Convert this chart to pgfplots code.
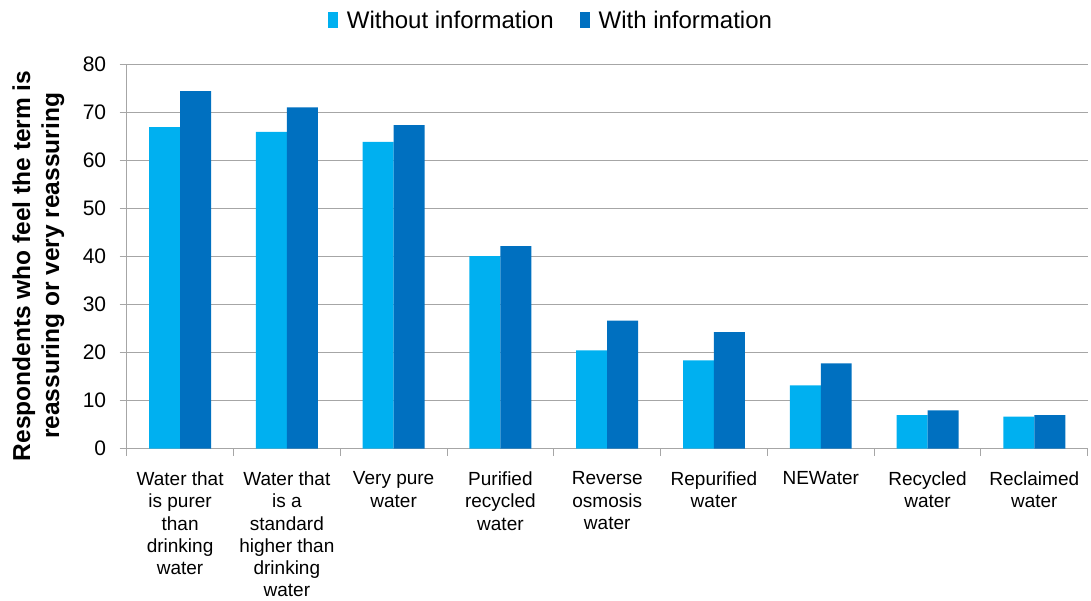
\documentclass[border=0pt]{standalone}
\usepackage{pgfplots}
\pgfplotsset{compat=1.18}
\usepackage{fontspec}
\setmainfont{Liberation Sans}
\definecolor{lightb}{HTML}{00B0F0}
\definecolor{darkb}{HTML}{0070C0}
\definecolor{gridc}{HTML}{A6A6A6}
\begin{document}
\begin{tikzpicture}
\path[use as bounding box] (0pt,0pt) rectangle (1091pt,-601pt);
\begin{axis}[
  at={(126.7pt,-448.7pt)}, anchor=south west,
  width=961pt, height=384pt, scale only axis,
  ybar=0pt, bar width=0.29,
  xmin=-0.5, xmax=8.5, ymin=0, ymax=80,
  ytick={0,10,...,80},
  xtick={0,...,8},
  xticklabels={{Water that\\is purer\\than\\drinking\\water},
               {Water that\\is a\\standard\\higher than\\drinking\\water},
               {Very pure\\water},
               {Purified\\recycled\\water},
               {Reverse\\osmosis\\water},
               {Repurified\\water},
               {NEWater},
               {Recycled\\water},
               {Reclaimed\\water}},
  minor xtick={-0.5,0.5,...,8.5},
  axis x line*=bottom, axis y line*=left,
  axis line style={-, draw=gridc, line width=1.2pt},
  ymajorgrids, major grid style={gridc, line width=1.2pt},
  tick align=outside, major tick length=7pt, minor tick length=7pt,
  tick style={gridc, line width=1pt},
  major x tick style={draw=none},
  /pgf/number format/assume math mode=true,
  yticklabel style={font=\fontsize{21}{25}\selectfont, xshift=-10pt},
  xticklabel style={font=\fontsize{19}{22.2}\selectfont, align=center, inner sep=0pt, yshift=-16pt},
  ylabel={Respondents who feel the term is\\reassuring or very reassuring},
  ylabel style={font=\bfseries\fontsize{24.5}{29}\selectfont, align=center, at={(axis description cs:-0.092,0.476)}, anchor=center},
  legend style={at={(0.4415,1.116)}, anchor=center, draw=none, legend columns=2,
    font=\fontsize{24}{28}\selectfont, inner sep=0pt,
    /tikz/every odd column/.append style={column sep=7pt},
    /tikz/every even column/.append style={column sep=24pt}},
  legend image code/.code={\fill[#1] (0pt,-8pt) rectangle (10pt,8pt);},
]
\addplot[fill=lightb, draw=none] coordinates {(0,67) (1,66) (2,63.9) (3,40.1) (4,20.5) (5,18.4) (6,13.2) (7,7) (8,6.7)};
\addplot[fill=darkb, draw=none] coordinates {(0,74.5) (1,71.1) (2,67.4) (3,42.2) (4,26.7) (5,24.3) (6,17.8) (7,8) (8,7)};
\legend{Without information, With information}
\end{axis}
\end{tikzpicture}
\end{document}
